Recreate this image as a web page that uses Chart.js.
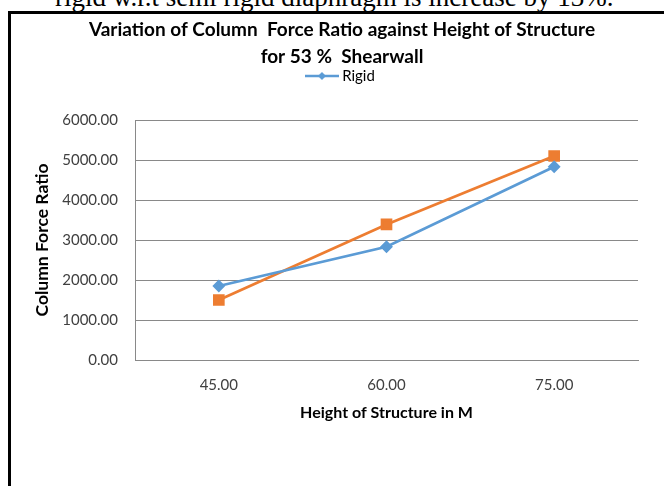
<!DOCTYPE html>
<html>
<head>
<meta charset="utf-8">
<script src="https://cdn.jsdelivr.net/npm/chart.js@4"></script>
<style>
  html, body { margin: 0; padding: 0; background: #fff; overflow: hidden; width: 664px; height: 486px; }
  #doc { position: absolute; left: 55px; top: -16px; font: 27px "Liberation Serif", serif; line-height: 27px; color: #000; white-space: nowrap; }
  #frame { position: absolute; left: 8px; top: 11px; width: 700px; height: 500px; border-left: 3px solid #000; border-top: 3px solid #000; }
  #wrap { position: absolute; left: 11px; top: 14px; width: 662px; height: 472px; }
</style>
</head>
<body>
<div id="doc">rigid w.r.t semi rigid diaphragm is increase by 13%.</div>
<div id="frame"></div>
<div id="wrap"><canvas id="lineChart"></canvas></div>
<script>
const heights = ['45.00', '60.00', '75.00'];
const rigid = [1850, 2830, 4830];
const semiRigid = [1500, 3390, 5100];
const yTicks = [0, 1000, 2000, 3000, 4000, 5000, 6000];

const blue = '#5B9BD5';
const orange = '#ED7D31';

// legend icon: line with a diamond in the middle, like the office chart
const icon = document.createElement('canvas');
icon.width = 34;
icon.height = 10;
const ic = icon.getContext('2d');
ic.strokeStyle = blue;
ic.lineWidth = 2.5;
ic.beginPath();
ic.moveTo(0, 5);
ic.lineTo(34, 5);
ic.stroke();
ic.fillStyle = blue;
ic.beginPath();
ic.moveTo(17, 1);
ic.lineTo(21, 5);
ic.lineTo(17, 9);
ic.lineTo(13, 5);
ic.closePath();
ic.fill();

const ctx = document.getElementById('lineChart').getContext('2d');
const chart = new Chart(ctx, {
    type: 'line',
    data: {
        labels: heights,
        datasets: [{
            label: 'Rigid',
            data: rigid,
            borderColor: blue,
            backgroundColor: blue,
            borderWidth: 2.75,
            pointStyle: 'rectRot',
            pointRadius: 4.5,
            pointHoverRadius: 4.5,
            tension: 0
        }, {
            label: 'Semi Rigid',
            data: semiRigid,
            borderColor: orange,
            backgroundColor: orange,
            borderWidth: 2.75,
            pointStyle: 'rect',
            pointRadius: 6.3,
            pointHoverRadius: 6.3,
            tension: 0
        }]
    },
    options: {
        responsive: true,
        maintainAspectRatio: false,
        animation: false,
        layout: { padding: { left: 0, right: 0, top: 0, bottom: 56 } },
        plugins: {
            title: {
                display: true,
                text: ['Variation of Column  Force Ratio against Height of Structure', 'for 53 %  Shearwall'],
                color: '#000',
                font: { family: 'Lato', size: 19, weight: 'bold', lineHeight: '27px' },
                padding: { top: 2.5, bottom: -2 }
            },
            legend: {
                position: 'top',
                labels: {
                    usePointStyle: true,
                    pointStyleWidth: 25.5,
                    padding: 0,
                    color: '#404040',
                    font: { family: 'Lato', size: 15 },
                    // only the first series shows in the picture's legend
                    generateLabels: (c) => [{
                        text: 'Rigid',
                        pointStyle: icon,
                        fillStyle: blue,
                        strokeStyle: blue,
                        lineWidth: 0,
                        datasetIndex: 0
                    }]
                }
            },
            tooltip: { enabled: false }
        },
        scales: {
            x: {
                type: 'category',
                offset: true,
                grid: { display: false, drawTicks: false },
                border: { display: true, color: '#898989', width: 1 },
                ticks: { color: '#404040', font: { family: 'Lato', size: 15 }, padding: 16 },
                title: {
                    display: true,
                    text: 'Height of Structure in M',
                    color: '#000',
                    font: { family: 'Lato', size: 16, weight: 'bold' },
                    padding: { top: 0, bottom: 7.4 }
                },
                afterFit: (s) => { s.height = 70; }
            },
            xTop: {
                type: 'category',
                position: 'top',
                grid: { display: false, drawTicks: false },
                border: { display: false },
                ticks: { display: false },
                afterFit: (s) => { s.height = 26.5; }
            },
            y: {
                min: 0,
                max: 6000,
                afterBuildTicks: (s) => { s.ticks = yTicks.map(v => ({ value: v })); },
                grid: { color: '#898989', lineWidth: 1, drawTicks: false },
                border: { display: true, color: '#898989', width: 1 },
                ticks: {
                    color: '#404040',
                    font: { family: 'Lato', size: 15 },
                    padding: 17,
                    callback: (v) => Number(v).toFixed(2)
                },
                title: {
                    display: true,
                    text: 'Column Force Ratio',
                    color: '#000',
                    font: { family: 'Lato', size: 17.5, weight: 'bold' },
                    padding: { top: 20.5, bottom: 0 }
                },
                afterFit: (s) => { s.width = 124; }
            },
            yRight: {
                type: 'linear',
                position: 'right',
                grid: { display: false, drawTicks: false },
                border: { display: false },
                ticks: { display: false },
                afterFit: (s) => { s.width = 35; }
            }
        }
    }
});
</script>
</body>
</html>
